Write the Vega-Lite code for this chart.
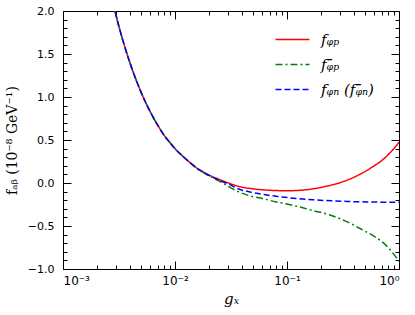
{
  "$schema": "https://vega.github.io/schema/vega-lite/v6.json",
  "width": 336,
  "height": 258,
  "autosize": {"type": "none"},
  "padding": {"left": 63, "top": 11, "right": 16, "bottom": 46},
  "config": {
    "view": {"stroke": "black", "strokeWidth": 1},
    "axis": {"domain": false, "grid": false, "tickColor": "black", "tickWidth": 1, "labelColor": "black", "labelFont": "DejaVu Sans", "labelFontSize": 11, "titleColor": "black"}
  },
  "data": {
    "values": [
      {"g": 0.0028, "f": 2.087, "s": "a"}, {"g": 0.003, "f": 1.93, "s": "a"}, {"g": 0.0035, "f": 1.616, "s": "a"}, {"g": 0.004, "f": 1.38, "s": "a"}, {"g": 0.005, "f": 1.05, "s": "a"}, {"g": 0.006, "f": 0.83, "s": "a"}, {"g": 0.007, "f": 0.673, "s": "a"}, {"g": 0.008, "f": 0.555, "s": "a"}, {"g": 0.009, "f": 0.47, "s": "a"}, {"g": 0.01, "f": 0.4, "s": "a"}, {"g": 0.011, "f": 0.345, "s": "a"}, {"g": 0.012, "f": 0.3, "s": "a"}, {"g": 0.014, "f": 0.225, "s": "a"}, {"g": 0.016, "f": 0.165, "s": "a"}, {"g": 0.018, "f": 0.127, "s": "a"},
      {"g": 0.02, "f": 0.095, "s": "a"}, {"g": 0.025, "f": 0.04, "s": "a"}, {"g": 0.03, "f": 0.0, "s": "a"}, {"g": 0.038, "f": -0.043, "s": "a"}, {"g": 0.05, "f": -0.068, "s": "a"}, {"g": 0.065, "f": -0.082, "s": "a"}, {"g": 0.08, "f": -0.088, "s": "a"}, {"g": 0.1, "f": -0.09, "s": "a"}, {"g": 0.13, "f": -0.085, "s": "a"}, {"g": 0.17, "f": -0.068, "s": "a"}, {"g": 0.22, "f": -0.04, "s": "a"}, {"g": 0.3, "f": 0.005, "s": "a"}, {"g": 0.4, "f": 0.07, "s": "a"}, {"g": 0.5, "f": 0.135, "s": "a"}, {"g": 0.6, "f": 0.2, "s": "a"}, {"g": 0.7, "f": 0.26, "s": "a"}, {"g": 0.8, "f": 0.33, "s": "a"}, {"g": 0.9, "f": 0.4, "s": "a"}, {"g": 1.0, "f": 0.475, "s": "a"},
      {"g": 0.0028, "f": 2.087, "s": "b"}, {"g": 0.003, "f": 1.93, "s": "b"}, {"g": 0.0035, "f": 1.616, "s": "b"}, {"g": 0.004, "f": 1.38, "s": "b"}, {"g": 0.005, "f": 1.05, "s": "b"}, {"g": 0.006, "f": 0.83, "s": "b"}, {"g": 0.007, "f": 0.673, "s": "b"}, {"g": 0.008, "f": 0.555, "s": "b"}, {"g": 0.009, "f": 0.47, "s": "b"}, {"g": 0.01, "f": 0.4, "s": "b"}, {"g": 0.011, "f": 0.345, "s": "b"}, {"g": 0.012, "f": 0.298, "s": "b"}, {"g": 0.014, "f": 0.222, "s": "b"}, {"g": 0.016, "f": 0.16, "s": "b"}, {"g": 0.018, "f": 0.118, "s": "b"},
      {"g": 0.02, "f": 0.085, "s": "b"}, {"g": 0.025, "f": 0.02, "s": "b"}, {"g": 0.03, "f": -0.04, "s": "b"}, {"g": 0.038, "f": -0.11, "s": "b"}, {"g": 0.047, "f": -0.15, "s": "b"}, {"g": 0.06, "f": -0.18, "s": "b"}, {"g": 0.08, "f": -0.22, "s": "b"}, {"g": 0.1, "f": -0.245, "s": "b"}, {"g": 0.122, "f": -0.27, "s": "b"}, {"g": 0.17, "f": -0.32, "s": "b"}, {"g": 0.242, "f": -0.372, "s": "b"}, {"g": 0.33, "f": -0.44, "s": "b"}, {"g": 0.48, "f": -0.55, "s": "b"}, {"g": 0.6, "f": -0.62, "s": "b"}, {"g": 0.7, "f": -0.68, "s": "b"}, {"g": 0.8, "f": -0.75, "s": "b"}, {"g": 0.9, "f": -0.83, "s": "b"}, {"g": 1.0, "f": -0.91, "s": "b"},
      {"g": 0.0028, "f": 2.087, "s": "c"}, {"g": 0.003, "f": 1.93, "s": "c"}, {"g": 0.0035, "f": 1.616, "s": "c"}, {"g": 0.004, "f": 1.38, "s": "c"}, {"g": 0.005, "f": 1.05, "s": "c"}, {"g": 0.006, "f": 0.83, "s": "c"}, {"g": 0.007, "f": 0.673, "s": "c"}, {"g": 0.008, "f": 0.555, "s": "c"}, {"g": 0.009, "f": 0.47, "s": "c"}, {"g": 0.01, "f": 0.4, "s": "c"}, {"g": 0.011, "f": 0.345, "s": "c"}, {"g": 0.012, "f": 0.3, "s": "c"}, {"g": 0.014, "f": 0.224, "s": "c"}, {"g": 0.016, "f": 0.163, "s": "c"}, {"g": 0.018, "f": 0.123, "s": "c"},
      {"g": 0.02, "f": 0.09, "s": "c"}, {"g": 0.025, "f": 0.03, "s": "c"}, {"g": 0.03, "f": -0.012, "s": "c"}, {"g": 0.038, "f": -0.075, "s": "c"}, {"g": 0.045, "f": -0.1, "s": "c"}, {"g": 0.057, "f": -0.125, "s": "c"}, {"g": 0.07, "f": -0.145, "s": "c"}, {"g": 0.087, "f": -0.16, "s": "c"}, {"g": 0.12, "f": -0.18, "s": "c"}, {"g": 0.17, "f": -0.195, "s": "c"}, {"g": 0.25, "f": -0.207, "s": "c"}, {"g": 0.35, "f": -0.215, "s": "c"}, {"g": 0.5, "f": -0.22, "s": "c"}, {"g": 0.7, "f": -0.223, "s": "c"}, {"g": 1.0, "f": -0.225, "s": "c"}
    ]
  },
  "layer": [
    {
      "mark": {"type": "line", "clip": true, "strokeWidth": 1.5, "interpolate": "monotone"},
      "encoding": {
        "x": {"field": "g", "type": "quantitative", "scale": {"type": "log", "domain": [0.001, 1], "nice": false},
          "axis": {"orient": "bottom", "values": [0.001, 0.01, 0.1, 1], "tickSize": -8, "labelPadding": 14, "labelFontSize": 12,
            "labelExpr": "datum.value == 1 ? '10⁰' : datum.value == 0.1 ? '10⁻¹' : datum.value == 0.01 ? '10⁻²' : '10⁻³'",
            "title": "gₓ", "titleFont": "DejaVu Serif", "titleFontStyle": "italic", "titleFontWeight": "normal", "titleFontSize": 15, "titlePadding": 5}},
        "y": {"field": "f", "type": "quantitative", "scale": {"domain": [-1, 2], "nice": false, "zero": false},
          "axis": {"orient": "left", "values": [-1, -0.5, 0, 0.5, 1, 1.5, 2], "format": ".1f", "tickSize": -8, "labelPadding": 17,
            "title": "fₐᵦ (10⁻⁸ GeV⁻¹)", "titleFont": "DejaVu Serif", "titleFontWeight": "normal", "titleFontSize": 14, "titlePadding": 8}},
        "color": {"field": "s", "type": "nominal", "scale": {"domain": ["a", "b", "c"], "range": ["#ff0000", "#008000", "#0000ff"]},
          "legend": {"orient": "none", "legendX": 220, "legendY": 19, "title": null, "padding": 0, "symbolType": "M-2,0H2", "symbolSize": 289, "symbolStrokeWidth": 1.5, "labelFont": "DejaVu Serif", "labelFontStyle": "italic", "labelFontSize": 15, "labelOffset": 19, "rowPadding": 7,
            "labelExpr": "datum.value == 'a' ? 'fᵩₚ' : datum.value == 'b' ? 'fᵩ̄ₚ' : 'fᵩₙ (fᵩ̄ₙ)'"}},
        "strokeDash": {"field": "s", "type": "nominal", "scale": {"domain": ["a", "b", "c"], "range": [[1, 0], [7, 3, 2, 3], [6, 3]]},
          "legend": {"orient": "none", "legendX": 220, "legendY": 19, "title": null, "padding": 0, "symbolType": "M-2,0H2", "symbolSize": 289, "symbolStrokeWidth": 1.5, "labelFont": "DejaVu Serif", "labelFontStyle": "italic", "labelFontSize": 15, "labelOffset": 19, "rowPadding": 7,
            "labelExpr": "datum.value == 'a' ? 'fᵩₚ' : datum.value == 'b' ? 'fᵩ̄ₚ' : 'fᵩₙ (fᵩ̄ₙ)'"}}
      }
    },
    {
      "mark": {"type": "point", "opacity": 0},
      "encoding": {
        "x": {"field": "g", "type": "quantitative", "axis": {"orient": "bottom", "values": [0.002, 0.003, 0.004, 0.005, 0.006, 0.007, 0.008, 0.009, 0.02, 0.03, 0.04, 0.05, 0.06, 0.07, 0.08, 0.09, 0.2, 0.3, 0.4, 0.5, 0.6, 0.7, 0.8, 0.9], "tickSize": -4, "labels": false, "title": null}},
        "y": {"field": "f", "type": "quantitative", "axis": {"orient": "left", "values": [-0.9, -0.8, -0.7, -0.6, -0.4, -0.3, -0.2, -0.1, 0.1, 0.2, 0.3, 0.4, 0.6, 0.7, 0.8, 0.9, 1.1, 1.2, 1.3, 1.4, 1.6, 1.7, 1.8, 1.9], "tickSize": -4, "labels": false, "title": null}}
      }
    },
    {
      "mark": {"type": "point", "opacity": 0},
      "encoding": {
        "x": {"field": "g", "type": "quantitative", "axis": {"orient": "top", "values": [0.001, 0.01, 0.1, 1], "tickSize": -8, "labels": false, "title": null}},
        "y": {"field": "f", "type": "quantitative", "axis": {"orient": "right", "values": [-1, -0.5, 0, 0.5, 1, 1.5, 2], "tickSize": -8, "labels": false, "title": null}}
      }
    },
    {
      "mark": {"type": "point", "opacity": 0},
      "encoding": {
        "x": {"field": "g", "type": "quantitative", "axis": {"orient": "top", "values": [0.002, 0.003, 0.004, 0.005, 0.006, 0.007, 0.008, 0.009, 0.02, 0.03, 0.04, 0.05, 0.06, 0.07, 0.08, 0.09, 0.2, 0.3, 0.4, 0.5, 0.6, 0.7, 0.8, 0.9], "tickSize": -4, "labels": false, "title": null}},
        "y": {"field": "f", "type": "quantitative", "axis": {"orient": "right", "values": [-0.9, -0.8, -0.7, -0.6, -0.4, -0.3, -0.2, -0.1, 0.1, 0.2, 0.3, 0.4, 0.6, 0.7, 0.8, 0.9, 1.1, 1.2, 1.3, 1.4, 1.6, 1.7, 1.8, 1.9], "tickSize": -4, "labels": false, "title": null}}
      }
    }
  ],
  "resolve": {"axis": {"x": "independent", "y": "independent"}}
}
